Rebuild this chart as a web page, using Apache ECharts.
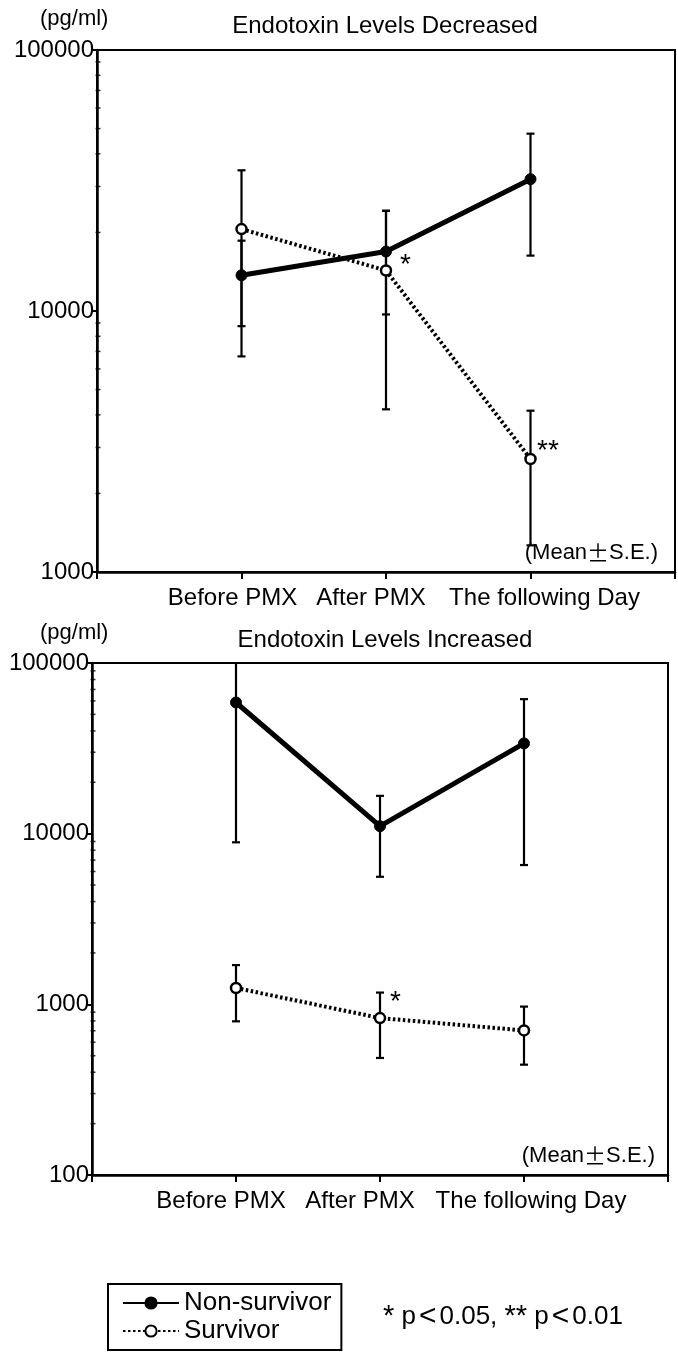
<!DOCTYPE html>
<html>
<head>
<meta charset="utf-8">
<script src="https://cdn.jsdelivr.net/npm/echarts@6/dist/echarts.min.js"></script>
<style>
html,body{margin:0;padding:0;background:#fff;}
#chart{width:678px;height:1362px;}
</style>
</head>
<body>
<div id="chart"></div>
<script>
// ---- data ----
const categories = ['Before PMX', 'After PMX', 'The following Day'];
const categoryPos = [1, 2, 3];

const topNonSurvivor = [13700, 16900, 32000];
const topNonSurvivorLow = [8750, 9700, 16300];
const topNonSurvivorHigh = [18600, 24200, 47800];
const topSurvivor = [20600, 14300, 2710];
const topSurvivorLow = [6700, 4200, 1265];
const topSurvivorHigh = [34600, 24200, 4150];

const bottomNonSurvivor = [58700, 11060, 33800];
const bottomNonSurvivorLow = [8900, 5590, 6550];
const bottomNonSurvivorHigh = [108000, 16660, 61400];
const bottomSurvivor = [1247, 831, 703];
const bottomSurvivorLow = [795, 485, 443];
const bottomSurvivorHigh = [1698, 1172, 970];

const topMinorTicks = [2000,3000,4000,5000,6000,7000,8000,9000,20000,30000,40000,50000,60000,70000,80000,90000];
const bottomMinorTicks = [200,300,400,500,600,700,800,900,2000,3000,4000,5000,6000,7000,8000,9000,20000,30000,40000,50000,60000,70000,80000,90000];

const FONT = 'Liberation Sans, Arial, sans-serif';
const CJK = '"Noto Sans CJK JP", sans-serif';
const FS = 24;

function pts(vals){ return vals.map((v,i)=>[categoryPos[i], v]); }
function errs(low, high){ return low.map((l,i)=>[categoryPos[i], l, high[i]]); }

function errorRender(params, api){
  const x = api.value(0);
  const lo = api.coord([x, api.value(1)]);
  const hi = api.coord([x, api.value(2)]);
  const cw = 4;
  const style = {stroke:'#000', lineWidth:2.2, fill:null};
  return {type:'group', children:[
    {type:'line', shape:{x1:lo[0], y1:lo[1], x2:hi[0], y2:hi[1]}, style},
    {type:'line', shape:{x1:lo[0]-cw, y1:lo[1], x2:lo[0]+cw, y2:lo[1]}, style},
    {type:'line', shape:{x1:hi[0]-cw, y1:hi[1], x2:hi[0]+cw, y2:hi[1]}, style}
  ]};
}

const labelTags = ['b', 'a', 'f'];
function xAxis(gi, pads){
  const st = (p)=>({color:'#000', fontFamily:FONT, fontSize:FS, padding:p});
  return {
    type:'value', gridIndex:gi, min:0, max:4, interval:1,
    axisLine:{show:true, lineStyle:{color:'#000', width:2.5}},
    axisTick:{show:true, length:7, lineStyle:{color:'#000', width:2}},
    splitLine:{show:false},
    axisLabel:{
      color:'#000', fontFamily:FONT, fontSize:FS, margin:14, hideOverlap:false,
      formatter:(v)=> (v>=1 && v<=3) ? '{' + labelTags[v-1] + '|' + categories[v-1] + '}' : '',
      rich:{ b:st(pads[0]), a:st(pads[1]), f:st(pads[2]) }
    }
  };
}
function yAxis(gi, min, max){
  return {
    type:'log', logBase:10, gridIndex:gi, min:min, max:max,
    axisLine:{show:true, lineStyle:{color:'#000', width:2.5}},
    axisTick:{show:true, length:6, lineStyle:{color:'#000', width:2}},
    splitLine:{show:false},
    axisLabel:{color:'#000', fontFamily:FONT, fontSize:FS, margin:3, formatter:(v)=>String(Math.round(v))}
  };
}

function seriesFor(gi, ns, nsLo, nsHi, sv, svLo, svHi, minor){
  return [
    {type:'custom', xAxisIndex:gi, yAxisIndex:gi, renderItem:errorRender, data:errs(nsLo, nsHi), clip:true, z:2, silent:true},
    {type:'custom', xAxisIndex:gi, yAxisIndex:gi, renderItem:errorRender, data:errs(svLo, svHi), clip:true, z:2, silent:true},
    {name:'Non-survivor', type:'line', xAxisIndex:gi, yAxisIndex:gi, data:pts(ns),
      symbol:'circle', symbolSize:11, lineStyle:{color:'#000', width:5},
      itemStyle:{color:'#000', borderColor:'#000', borderWidth:1}, z:4, animation:false},
    {name:'Survivor', type:'line', xAxisIndex:gi, yAxisIndex:gi, data:pts(sv),
      symbol:'circle', symbolSize:10, lineStyle:{color:'#000', width:4, type:[2.5,2.5]},
      itemStyle:{color:'#fff', borderColor:'#000', borderWidth:2.5}, z:5, animation:false},
    {type:'scatter', xAxisIndex:gi, yAxisIndex:gi, data:minor.map(v=>[0,v]),
      symbol:'rect', symbolSize:[5,1.5], symbolOffset:[1,0], itemStyle:{color:'#000'}, silent:true, z:6, animation:false}
  ];
}

const chart = echarts.init(document.getElementById('chart'), null, {renderer:'canvas'});
const txt = (x,y,t,opt)=>({type:'text', x:x, y:y, style:Object.assign({text:t, fill:'#000', font:FS+'px '+FONT}, opt||{})});
const meanRich = {
  a:{fontFamily:FONT, fontSize:22, fill:'#000', color:'#000'},
  p:{fontFamily:CJK, fontSize:22, fill:'#000', color:'#000'}
};
const pRich = {
  s:{fontFamily:FONT, fontSize:29, color:'#000', fill:'#000'},
  t:{fontFamily:FONT, fontSize:26, color:'#000', fill:'#000'},
  l:{fontFamily:FONT, fontSize:30, color:'#000', fill:'#000', padding:[0,3,0,3]}
};

chart.setOption({
  backgroundColor:'#fff',
  animation:false,
  grid:[
    {left:97, top:50, width:578, height:522, show:true, borderColor:'#000', borderWidth:2, backgroundColor:'transparent'},
    {left:92, top:663, width:576, height:512, show:true, borderColor:'#000', borderWidth:2, backgroundColor:'transparent'}
  ],
  xAxis:[
    xAxis(0, [[0,18,0,0],[0,30,0,0],[0,0,0,28]]),
    xAxis(1, [[0,30,0,0],[0,40,0,0],[0,0,0,14]])
  ],
  yAxis:[yAxis(0, 1000, 100000), yAxis(1, 100, 100000)],
  legend:{
    data:['Non-survivor','Survivor'], orient:'vertical', left:108, top:1284,
    itemWidth:56, itemHeight:14, itemGap:2,
    padding:[6,10,6,14],
    borderColor:'#000', borderWidth:2,
    textStyle:{color:'#000', fontFamily:FONT, fontSize:26}
  },
  graphic:[
    txt(40, 8, '(pg/ml)', {font:'22px '+FONT}),
    txt(385, 14, 'Endotoxin Levels Decreased', {textAlign:'center'}),
    txt(400, 251, '*', {font:'28px '+FONT}),
    txt(537, 437, '**', {font:'28px '+FONT}),
    {type:'text', x:658, y:542, style:{text:'{a|(Mean}{p|±}{a|S.E.)}', rich:meanRich, align:'right', font:'22px '+FONT}},
    txt(40, 622, '(pg/ml)', {font:'22px '+FONT}),
    txt(385, 628, 'Endotoxin Levels Increased', {textAlign:'center'}),
    txt(390, 988, '*', {font:'28px '+FONT}),
    {type:'text', x:655, y:1145, style:{text:'{a|(Mean}{p|±}{a|S.E.)}', rich:meanRich, align:'right', font:'22px '+FONT}},
    {type:'text', x:383, y:1302, style:{text:'{s|*}{t| p}{l|<}{t|0.05, }{s|**}{t| p}{l|<}{t|0.01}', rich:pRich, font:'26px '+FONT}}
  ],
  series:[].concat(
    seriesFor(0, topNonSurvivor, topNonSurvivorLow, topNonSurvivorHigh, topSurvivor, topSurvivorLow, topSurvivorHigh, topMinorTicks),
    seriesFor(1, bottomNonSurvivor, bottomNonSurvivorLow, bottomNonSurvivorHigh, bottomSurvivor, bottomSurvivorLow, bottomSurvivorHigh, bottomMinorTicks)
  )
});
</script>
</body>
</html>
